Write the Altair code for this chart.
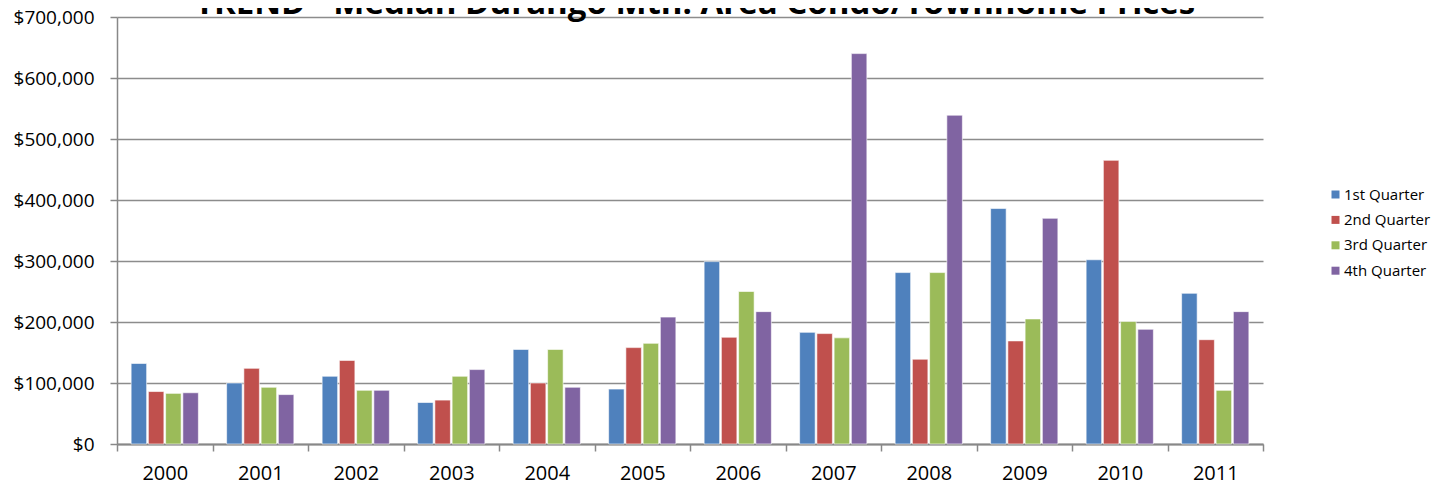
import altair as alt
import pandas as pd

years = ["2000", "2001", "2002", "2003", "2004", "2005", "2006", "2007", "2008", "2009", "2010", "2011"]
quarters = ["1st Quarter", "2nd Quarter", "3rd Quarter", "4th Quarter"]
q1 = [132000, 100000, 111000, 68000, 155000, 90000, 299000, 183000, 281000, 386000, 302000, 247000]
q2 = [86000, 124000, 137000, 72000, 100000, 158000, 175000, 181000, 139000, 169000, 465000, 171000]
q3 = [83000, 93000, 88000, 111000, 155000, 165000, 250000, 174000, 281000, 205000, 201000, 88000]
q4 = [84000, 81000, 88000, 122000, 93000, 208000, 217000, 640000, 539000, 370000, 188000, 217000]
colors = ["#4F81BD", "#C0504D", "#9BBB59", "#8064A2"]
y_ticks = [0, 100000, 200000, 300000, 400000, 500000, 600000, 700000]
title_text = "TREND - Median Durango Mtn. Area Condo/Townhome Prices"

rows = []
for qname, series in zip(quarters, [q1, q2, q3, q4]):
    for yr, v in zip(years, series):
        rows.append({"Year": yr, "Quarter": qname, "Price": v})
df = pd.DataFrame(rows)

FONT = "Open Sans"

bars = alt.Chart(df).mark_bar(stroke="white", strokeWidth=0.6).encode(
    x=alt.X("Year:N", sort=years, title=None,
            scale=alt.Scale(paddingInner=0, paddingOuter=0),
            axis=alt.Axis(labelAngle=0, tickBand="extent", grid=False,
                          domainColor="#888888", domainWidth=2,
                          tickColor="#888888", tickWidth=1.5, tickSize=7,
                          labelFont=FONT, labelFontSize=20, labelColor="#000000",
                          labelPadding=12)),
    xOffset=alt.XOffset("Quarter:N", sort=quarters,
                        scale=alt.Scale(paddingInner=0.1, paddingOuter=0.82)),
    y=alt.Y("Price:Q", title=None,
            scale=alt.Scale(domain=[0, 700000], nice=False),
            axis=alt.Axis(values=y_ticks, format="$,.0f", grid=True,
                          gridColor="#8c8c8c", gridWidth=1.5,
                          domainColor="#888888", domainWidth=1.5,
                          tickColor="#888888", tickWidth=1.5, tickSize=7,
                          labelFont=FONT, labelFontSize=19, labelColor="#000000",
                          labelPadding=16)),
    color=alt.Color("Quarter:N", sort=quarters,
                    scale=alt.Scale(domain=quarters, range=colors),
                    legend=alt.Legend(title=None, orient="none", legendX=1211, legendY=170,
                                      symbolType="square", symbolSize=64,
                                      symbolStrokeWidth=0,
                                      labelFont=FONT, labelFontSize=15,
                                      labelColor="#000000", rowPadding=9.4,
                                      padding=0, labelOffset=1)),
)

title = alt.Chart(pd.DataFrame({"t": [title_text]})).mark_text(
    font=FONT, fontSize=33, fontWeight="bold", color="#000000",
    align="center", baseline="alphabetic"
).encode(text="t:N", x=alt.value(578), y=alt.value(-3))

chart = alt.layer(bars, title).properties(
    width=1146, height=427,
    autosize=alt.AutoSizeParams(type="none"),
    padding={"left": 109, "top": 9, "right": 178, "bottom": 46},
).configure_view(strokeWidth=0)

chart.save("out.html", embed_options={"renderer": "svg", "actions": False})
